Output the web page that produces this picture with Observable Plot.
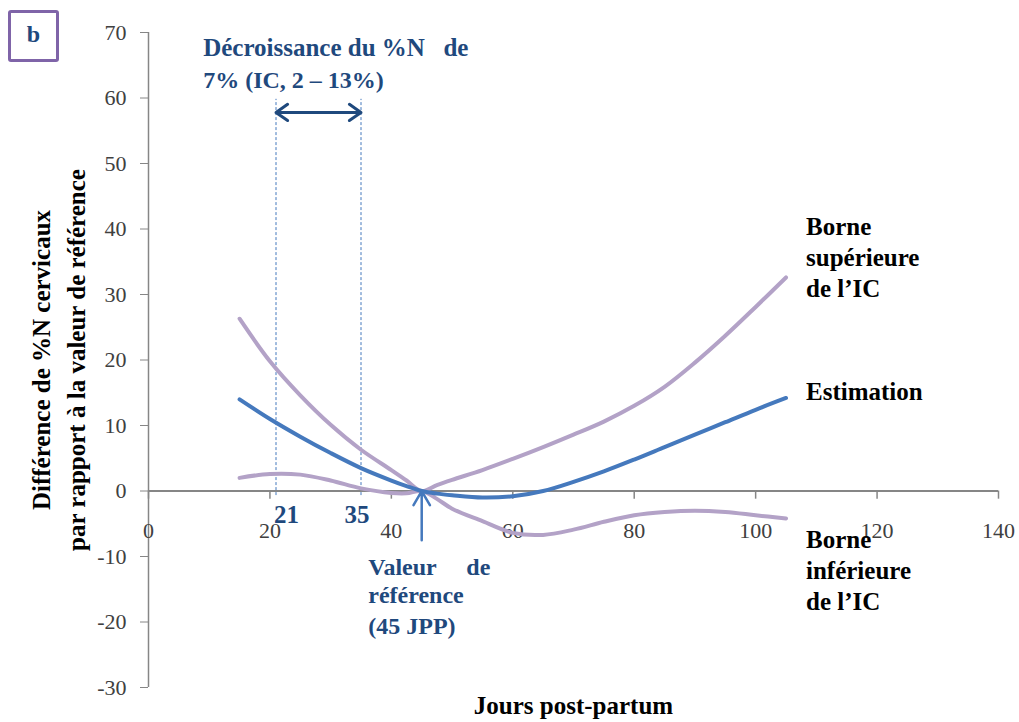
<!DOCTYPE html>
<html>
<head>
<meta charset="utf-8">
<script src="https://cdn.jsdelivr.net/npm/d3@7"></script>
<script src="https://cdn.jsdelivr.net/npm/@observablehq/plot@0.6"></script>
<style>
  body { margin: 0; background: #fff; }
  #wrap { position: relative; width: 1019px; height: 722px; }
  #panel { position: absolute; left: 8px; top: 10px; width: 51px; height: 52px; box-sizing: border-box;
    border: 3px solid #7F64A8; border-radius: 3px; font: bold 24px "Liberation Serif", serif; color: #1F497D;
    display: flex; align-items: center; justify-content: center; padding-bottom: 4px; }
</style>
</head>
<body>
<div id="wrap"><div id="panel">b</div></div>
<script>
// ---- data ----
const days = [15, 20, 25, 30, 35, 40, 42.5, 45, 47.5, 50, 55, 60, 65, 70, 75, 80, 85, 90, 95, 100, 105];
const estimation = [14.0, 11.0, 8.3, 5.8, 3.5, 1.6, 0.75, 0, -0.4, -0.65, -1.0, -0.8, 0.0, 1.4, 3.0, 4.8, 6.7, 8.6, 10.5, 12.4, 14.2];
const upperCI = [26.3, 19.8, 14.6, 10.1, 6.3, 3.2, 1.6, 0, 0.9, 1.7, 3.2, 4.9, 6.7, 8.6, 10.6, 13.0, 15.9, 19.6, 23.7, 28.1, 32.6];
const lowerCI = [2.0, 2.6, 2.5, 1.6, 0.4, -0.3, -0.35, 0, -1.2, -2.7, -4.6, -6.4, -6.7, -5.9, -4.7, -3.7, -3.2, -3.0, -3.2, -3.7, -4.2];

const xTicks = [0, 20, 40, 60, 80, 100, 120, 140];
const yTicks = [-30, -20, -10, 0, 10, 20, 30, 40, 50, 60, 70];

const seriesNames = ["Borne\nsupérieure\nde l’IC", "Estimation", "Borne\ninférieure\nde l’IC"];
const intervalDays = [21, 35];
const referenceDay = 45;
const decreaseText = ["Décroissance du %N", "de", "7% (IC, 2 – 13%)"];
const referenceText = ["Valeur", "de", "référence", "(45 JPP)"];
const yTitle = ["Différence de %N cervicaux", "par rapport à la valeur de référence"];
const xTitle = "Jours post-partum";

// ---- table built from the arrays ----
const rows = days.map((d, i) => ({day: d, est: estimation[i], up: upperCI[i], lo: lowerCI[i]}));
const last = rows[rows.length - 1];

const BLUE = "#4579BD", LILAC = "#B3A2C7", NAVY = "#1F497D", AXIS = "#868686", TXT = "#404040";
const SERIF = "Liberation Serif";
const CURVE = "catmull-rom";

const seriesLabel = (key, name, dy) => Plot.text([last], {
  x: "day", y: key, dx: 20, dy, text: () => name, textAnchor: "start", lineAnchor: "middle",
  lineHeight: 1.24, fontSize: 25, fontWeight: "bold", fill: "black"
});
const navyText = (txt, x, y, anchor, size = 24) => Plot.text([txt], {
  x, y, text: d => d, textAnchor: anchor, fontSize: size, fontWeight: "bold", fill: NAVY
});

const chart = Plot.plot({
  width: 1019, height: 722,
  marginLeft: 148, marginRight: 21, marginTop: 32, marginBottom: 35,
  x: {domain: [0, 140], axis: null, label: null},
  y: {domain: [-30, 70], axis: null, label: null},
  style: {fontFamily: SERIF, fontSize: "22px", background: "white", overflow: "visible"},
  marks: [
    // y axis
    Plot.ruleX([0], {stroke: AXIS, strokeWidth: 1.5}),
    Plot.axisY(yTicks, {tickSize: 8, tickPadding: 14, label: null, stroke: AXIS, fill: TXT, fontSize: 22,
      tickFormat: d => String(d)}),
    // x axis at y = 0
    Plot.ruleY([0], {stroke: AXIS, strokeWidth: 2}),
    Plot.ruleX(xTicks, {x: d => d, y1: 0, y2: -1.25, stroke: AXIS, strokeWidth: 1.5}),
    Plot.text(xTicks, {x: d => d, y: 0, dy: 40, text: d => String(d), fill: TXT, fontSize: 22}),
    // interval markers
    Plot.ruleX(intervalDays, {x: d => d, y1: -0.7, y2: 59.8, stroke: BLUE, strokeWidth: 1, strokeDasharray: "3,2"}),
    // series
    Plot.line(rows, {x: "day", y: "lo", stroke: LILAC, strokeWidth: 4, curve: CURVE}),
    Plot.line(rows, {x: "day", y: "up", stroke: LILAC, strokeWidth: 4, curve: CURVE}),
    Plot.line(rows, {x: "day", y: "est", stroke: BLUE, strokeWidth: 4, curve: CURVE}),
    // double arrow between 21 and 35
    Plot.arrow([0, 1], {
      x1: () => (intervalDays[0] + intervalDays[1]) / 2, y1: 57.8,
      x2: i => intervalDays[i], y2: 57.8,
      stroke: NAVY, strokeWidth: 3, headLength: 14, headAngle: 70
    }),
    // arrow to the reference value
    Plot.arrow([referenceDay], {x1: d => d, y1: -7.5, x2: d => d, y2: 0, stroke: BLUE, strokeWidth: 2.5, headLength: 15, headAngle: 60}),
    // series labels
    seriesLabel("up", seriesNames[0], -21),
    seriesLabel("est", seriesNames[1], -8),
    seriesLabel("lo", seriesNames[2], 51),
    // interval annotation
    navyText(decreaseText[0], 9.0, 67.6, "start", 25),
    navyText(decreaseText[1], 52.7, 67.6, "end", 25),
    navyText(decreaseText[2], 9.0, 62.7, "start"),
    Plot.text([intervalDays[0]], {x: d => d, y: -3.7, dx: -2, text: d => String(d), textAnchor: "start", fontSize: 25, fontWeight: "bold", fill: NAVY}),
    Plot.text([intervalDays[1]], {x: d => d, y: -3.7, dx: -4, text: d => String(d), fontSize: 25, fontWeight: "bold", fill: NAVY}),
    // reference annotation
    navyText(referenceText[0], 36.2, -11.7, "start"),
    navyText(referenceText[1], 56.3, -11.7, "end"),
    navyText(referenceText[2], 36.2, -16.0, "start"),
    navyText(referenceText[3], 36.2, -20.6, "start"),
    // axis titles
    Plot.text([yTitle[0]], {frameAnchor: "left", dx: -107, rotate: -90, text: d => d, textAnchor: "middle", lineAnchor: "middle",
      fontSize: 25, fontWeight: "bold", fill: "black"}),
    Plot.text([yTitle[1]], {frameAnchor: "left", dx: -72, rotate: -90, text: d => d, textAnchor: "middle", lineAnchor: "middle",
      fontSize: 25, fontWeight: "bold", fill: "black"}),
    Plot.text([xTitle], {frameAnchor: "bottom", dy: 18, text: d => d, lineAnchor: "middle", fontSize: 25, fontWeight: "bold", fill: "black"})
  ]
});
document.getElementById("wrap").prepend(chart);
</script>
</body>
</html>
